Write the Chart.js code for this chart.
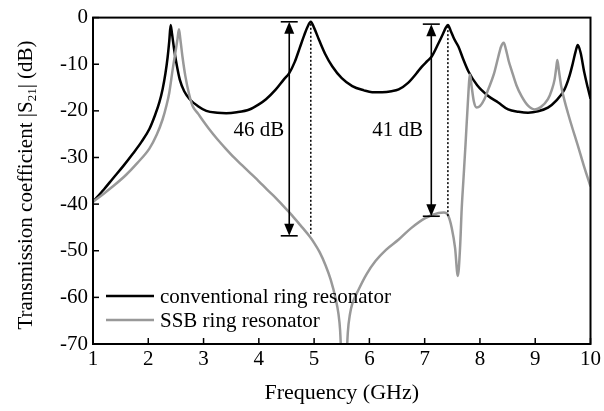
<!DOCTYPE html>
<html><head><meta charset="utf-8">
<script src="https://cdn.jsdelivr.net/npm/chart.js@4/dist/chart.umd.min.js"></script>
<style>html,body{margin:0;padding:0;background:#fff;}canvas{display:block;}</style>
</head><body>
<canvas id="c" width="604" height="411"></canvas>
<script>
// Frequency (GHz) and |S21| (dB) for conventional ring resonator
const convFreq = [1.0,1.2,1.36,1.55,1.72,1.88,2.02,2.12,2.2,2.26,2.31,2.35,2.38,2.405,2.43,2.47,2.52,2.57,2.65,2.75,2.9,3.05,3.25,3.41,3.6,3.83,4.0,4.13,4.3,4.45,4.55,4.65,4.74,4.82,4.88,4.94,5.0,5.09,5.2,5.33,5.5,5.69,5.9,6.05,6.23,6.4,6.53,6.7,6.85,6.95,7.05,7.13,7.25,7.33,7.38,7.42,7.47,7.53,7.61,7.7,7.79,7.95,8.15,8.33,8.51,8.7,8.87,9.05,9.23,9.38,9.53,9.62,9.68,9.73,9.77,9.82,9.89,9.95,10.0];
const convS21 = [-39.5,-36.8,-34.5,-31.8,-29.2,-26.6,-23.9,-21,-18.2,-15.3,-12,-8.5,-5,-1.6,-3.5,-7,-10.5,-13.3,-15.8,-17.5,-19,-20,-20.4,-20.5,-20.3,-19.7,-18.6,-17.5,-15.5,-13.3,-11.9,-9.5,-6.5,-3.8,-2,-0.9,-2.2,-4.8,-7.8,-10.5,-13,-14.7,-15.6,-16,-16,-15.8,-15.4,-14,-12,-10.5,-9.3,-8.3,-5.5,-3.5,-2.2,-1.6,-2.8,-4.5,-6.2,-9,-11.5,-14.5,-16.8,-18.2,-19.7,-20.2,-20.4,-20.1,-19.3,-17.8,-15.4,-12.5,-9.8,-7.3,-5.9,-7.5,-11.9,-15,-17.4];
// SSB ring resonator
const ssbFreq = [1.0,1.2,1.4,1.6,1.8,2.02,2.15,2.26,2.33,2.38,2.44,2.49,2.53,2.555,2.58,2.62,2.67,2.74,2.8,2.9,3.0,3.1,3.25,3.4,3.55,3.7,3.85,4.0,4.15,4.3,4.45,4.6,4.75,4.91,5.0,5.1,5.21,5.3,5.39,5.44,5.47,5.5,5.54,5.58,5.61,5.65,5.69,5.81,5.95,6.11,6.3,6.53,6.75,7.01,7.25,7.35,7.42,7.49,7.55,7.6,7.64,7.67,7.7,7.74,7.78,7.82,7.85,7.89,7.94,8.0,8.08,8.15,8.25,8.33,8.38,8.43,8.47,8.52,8.57,8.66,8.75,8.87,8.99,9.1,9.23,9.3,9.35,9.38,9.4,9.43,9.47,9.53,9.59,9.68,9.77,9.88,10.0];
const ssbS21 = [-39.5,-37.7,-35.8,-33.7,-31.2,-28.1,-25.2,-21.8,-18.8,-16.1,-11.2,-7.5,-4.5,-2.5,-4.6,-8.5,-12.5,-16.5,-18.9,-20.6,-22.3,-23.9,-26.1,-28.1,-30,-31.7,-33.4,-35.1,-36.9,-38.6,-40.5,-42.4,-44.5,-46.8,-48.3,-50.3,-53.2,-56.2,-60.3,-63.5,-67,-75,-85,-75,-67.5,-63.5,-61.4,-58.2,-55,-52.2,-49.8,-47.6,-45.2,-43,-41.9,-41.8,-42.3,-45.1,-49.4,-55.4,-49.4,-41,-35,-27,-18.5,-12.2,-14.8,-18,-19.3,-19,-17.5,-15.4,-12.2,-8.5,-6.3,-5.4,-6.8,-9.3,-11.2,-14.5,-16.8,-18.9,-19.7,-19.2,-17.5,-15.5,-13.3,-10.8,-9.1,-11.5,-14.7,-17.8,-20.4,-24,-27.4,-31.8,-36.2];
const xTicks = [1,2,3,4,5,6,7,8,9,10];
const yTicks = [0,-10,-20,-30,-40,-50,-60,-70];
const seriesNames = ['conventional ring resonator','SSB ring resonator'];
// annotation arrows
const arrowFreq = [4.55, 7.12];
const arrowTop = [-0.9, -1.4];
const arrowBottom = [-46.8, -42.6];
const dottedFreq = [4.94, 7.42];
const arrowLabels = ['46 dB', '41 dB'];
const labelFreq = [4.0, 6.51];
const labelDB = [-24.2, -24.2];

const FONT = '"Liberation Serif","Times New Roman",serif';
const toPts = (xs, ys) => xs.map((x, i) => ({x, y: ys[i]}));

const deco = {
  id: 'deco',
  afterDatasetsDraw(chart) {
    const {ctx, chartArea: a, scales: {x, y}} = chart;
    ctx.save();
    for (let i = 0; i < arrowFreq.length; i++) {
      const ax = x.getPixelForValue(arrowFreq[i]);
      const yt = y.getPixelForValue(arrowTop[i]);
      const yb = y.getPixelForValue(arrowBottom[i]);
      ctx.strokeStyle = '#000'; ctx.fillStyle = '#000'; ctx.lineWidth = 1.6;
      ctx.beginPath(); ctx.moveTo(ax, yt + 10); ctx.lineTo(ax, yb - 10); ctx.stroke();
      ctx.beginPath(); ctx.moveTo(ax - 8.5, yt); ctx.lineTo(ax + 8.5, yt); ctx.stroke();
      ctx.beginPath(); ctx.moveTo(ax - 8.5, yb); ctx.lineTo(ax + 8.5, yb); ctx.stroke();
      ctx.beginPath(); ctx.moveTo(ax, yt); ctx.lineTo(ax - 5, yt + 12); ctx.lineTo(ax + 5, yt + 12); ctx.closePath(); ctx.fill();
      ctx.beginPath(); ctx.moveTo(ax, yb); ctx.lineTo(ax - 5, yb - 12); ctx.lineTo(ax + 5, yb - 12); ctx.closePath(); ctx.fill();
      const dx = x.getPixelForValue(dottedFreq[i]);
      ctx.setLineDash([2, 2]); ctx.lineWidth = 1.5;
      ctx.beginPath(); ctx.moveTo(dx, yt + 2); ctx.lineTo(dx, yb); ctx.stroke();
      ctx.setLineDash([]);
      ctx.font = '21px ' + FONT; ctx.textAlign = 'center'; ctx.textBaseline = 'middle';
      ctx.fillText(arrowLabels[i], x.getPixelForValue(labelFreq[i]), y.getPixelForValue(labelDB[i]));
    }
    // legend
    const lx = a.left + 13, ly = [296, 320];
    const cols = ['#000', '#999'];
    for (let i = 0; i < 2; i++) {
      ctx.strokeStyle = cols[i]; ctx.lineWidth = 2.5;
      ctx.beginPath(); ctx.moveTo(lx, ly[i]); ctx.lineTo(lx + 48, ly[i]); ctx.stroke();
      ctx.fillStyle = '#000'; ctx.font = '21px ' + FONT; ctx.textAlign = 'left'; ctx.textBaseline = 'middle';
      ctx.fillText(seriesNames[i], lx + 54, ly[i] + 1);
    }
    // frame
    ctx.strokeStyle = '#000'; ctx.lineWidth = 2;
    ctx.strokeRect(a.left, a.top, a.right - a.left, a.bottom - a.top);
    ctx.lineWidth = 1.5;
    xTicks.forEach(v => { const px = x.getPixelForValue(v); ctx.beginPath(); ctx.moveTo(px, a.bottom); ctx.lineTo(px, a.bottom - 6); ctx.stroke(); });
    yTicks.forEach(v => { const py = y.getPixelForValue(v); ctx.beginPath(); ctx.moveTo(a.left, py); ctx.lineTo(a.left + 6, py); ctx.stroke(); });
    // axis titles
    ctx.fillStyle = '#000'; ctx.font = '22px ' + FONT; ctx.textAlign = 'center'; ctx.textBaseline = 'alphabetic';
    ctx.fillText('Frequency (GHz)', (a.left + a.right) / 2, 399);
    ctx.translate(32, 185);
    ctx.rotate(-Math.PI / 2);
    const p1 = 'Transmission coefficient |S', sub = '21', p2 = '| (dB)';
    ctx.font = '21px ' + FONT; const w1 = ctx.measureText(p1).width, w3 = ctx.measureText(p2).width;
    ctx.font = '13px ' + FONT; const w2 = ctx.measureText(sub).width;
    let sx = -(w1 + w2 + w3) / 2;
    ctx.textAlign = 'left';
    ctx.font = '21px ' + FONT; ctx.fillText(p1, sx, 0); sx += w1;
    ctx.font = '13px ' + FONT; ctx.fillText(sub, sx, 4); sx += w2;
    ctx.font = '21px ' + FONT; ctx.fillText(p2, sx, 0);
    ctx.restore();
  }
};

new Chart(document.getElementById('c'), {
  type: 'line',
  data: {
    datasets: [
      {label: seriesNames[1], data: toPts(ssbFreq, ssbS21), borderColor: '#999', borderWidth: 2.5, pointRadius: 0, cubicInterpolationMode: 'monotone', fill: false},
      {label: seriesNames[0], data: toPts(convFreq, convS21), borderColor: '#000', borderWidth: 2.5, pointRadius: 0, cubicInterpolationMode: 'monotone', fill: false}
    ]
  },
  options: {
    responsive: false, animation: false,
    layout: {padding: {top: 14, right: 11, left: 0, bottom: 0}},
    plugins: {legend: {display: false}, tooltip: {enabled: false}},
    scales: {
      x: {type: 'linear', min: 1, max: 10,
          afterFit: s => { s.height = 67; },
          afterBuildTicks: s => { s.ticks = xTicks.map(v => ({value: v})); },
          ticks: {font: {family: FONT, size: 21}, color: '#000', padding: 3, maxRotation: 0},
          grid: {display: false, drawTicks: false}, border: {display: false}},
      y: {type: 'linear', min: -70, max: 0,
          afterFit: s => { s.width = 93; },
          afterBuildTicks: s => { s.ticks = yTicks.map(v => ({value: v})); },
          ticks: {font: {family: FONT, size: 21}, color: '#000', padding: 5},
          grid: {display: false, drawTicks: false}, border: {display: false}},
    }
  },
  plugins: [deco]
});
</script>
</body></html>
